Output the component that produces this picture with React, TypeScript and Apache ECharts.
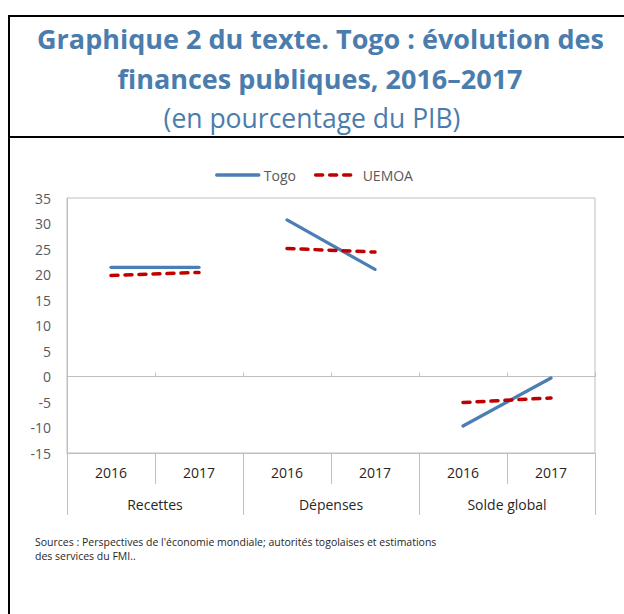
import React, { useEffect, useRef } from "react";
import * as echarts from "echarts";

const years = ["2016", "2017", "2016", "2017", "2016", "2017"];
const groups = ["Recettes", "Dépenses", "Solde global"];
const togo = [21.4, 21.4, 30.7, 21.0, -9.7, -0.3];
const uemoa = [19.8, 20.4, 25.1, 24.4, -5.1, -4.2];
const yTicks = { min: -15, max: 35, interval: 5 };

const titleLine1 = "Graphique 2 du texte. Togo : évolution des";
const titleLine2 = "finances publiques, 2016–2017";
const subtitle = "(en pourcentage du PIB)";
const source1 = "Sources : Perspectives de l'économie mondiale; autorités togolaises et estimations";
const source2 = "des services du FMI..";

const BLUE = "#4A7EB4";
const RED = "#C00000";
const TITLE = "#4A7DAD";
const AXIS = "#BFBFBF";
const FONT = "'Open Sans', 'Noto Sans', sans-serif";

function groupSeries(name: string, values: number[], color: string, dashed: boolean) {
  const out: any[] = [];
  for (let g = 0; g < groups.length; g++) {
    const data = values.map((v, i) => (Math.floor(i / 2) === g ? v : "-"));
    out.push({
      name,
      type: "line",
      xAxisIndex: 0,
      yAxisIndex: 0,
      data,
      symbol: "none",
      connectNulls: false,
      lineStyle: {
        color,
        width: dashed ? 3.5 : 3.25,
        type: dashed ? [7, 7] : "solid",
        cap: "round",
      },
      itemStyle: { color },
      z: dashed ? 3 : 2,
    });
  }
  return out;
}

export default function App() {
  const ref = useRef<HTMLDivElement>(null);
  useEffect(() => {
    if (!ref.current) return;
    const chart = echarts.init(ref.current, undefined, { renderer: "svg" });
    chart.setOption({
      animation: false,
      backgroundColor: "#ffffff",
      textStyle: { fontFamily: FONT },
      legend: {
        data: ["Togo", "UEMOA"],
        left: 210,
        top: 163,
        itemWidth: 42,
        itemHeight: 14,
        itemGap: 18,
        itemStyle: { color: "transparent", borderColor: "transparent", borderWidth: 0, opacity: 0 },
        lineStyle: { width: 3.5 },
        textStyle: { color: "#595959", fontSize: 14, fontFamily: FONT },
      },
      grid: {
        left: 67,
        right: 29,
        top: 198,
        bottom: 161,
        show: true,
        borderColor: AXIS,
        borderWidth: 1,
        backgroundColor: "transparent",
      },
      xAxis: [
        {
          type: "category",
          data: years,
          position: "bottom",
          axisLine: { onZero: true, lineStyle: { color: AXIS, width: 1 } },
          axisTick: { show: true, inside: true, length: 4, lineStyle: { color: AXIS } },
          axisLabel: { show: false },
          splitLine: { show: false },
        },
        {
          type: "category",
          data: years,
          position: "bottom",
          axisLine: { onZero: false, lineStyle: { color: AXIS, width: 1 } },
          axisTick: { show: true, length: 31, lineStyle: { color: AXIS } },
          axisLabel: { show: true, margin: 12, color: "#262626", fontSize: 14, fontFamily: FONT },
          splitLine: { show: false },
        },
        {
          type: "category",
          data: groups,
          position: "bottom",
          axisLine: { onZero: false, show: false },
          axisTick: { show: true, length: 62, lineStyle: { color: AXIS } },
          axisLabel: { show: true, margin: 44, color: "#262626", fontSize: 14, fontFamily: FONT },
          splitLine: { show: false },
        },
      ],
      yAxis: {
        type: "value",
        min: yTicks.min,
        max: yTicks.max,
        interval: yTicks.interval,
        axisLine: { show: true, lineStyle: { color: AXIS, width: 1 } },
        axisTick: { show: false },
        splitLine: { show: false },
        axisLabel: { margin: 16, color: "#595959", fontSize: 14, fontFamily: FONT },
      },
      series: [
        ...groupSeries("Togo", togo, BLUE, false),
        ...groupSeries("UEMOA", uemoa, RED, true),
      ],
      graphic: [
        { type: "line", shape: { x1: 8, y1: 16, x2: 624, y2: 16 }, style: { stroke: "#000", lineWidth: 2 } },
        { type: "line", shape: { x1: 9, y1: 15, x2: 9, y2: 614 }, style: { stroke: "#000", lineWidth: 2 } },
        { type: "line", shape: { x1: 8, y1: 137, x2: 624, y2: 137 }, style: { stroke: "#000", lineWidth: 2 } },
        {
          type: "text",
          x: 320.5,
          y: 38,
          style: {
            text: titleLine1,
            fill: TITLE,
            font: `bold 27px ${FONT}`,
            align: "center",
            verticalAlign: "middle",
          },
        },
        {
          type: "text",
          x: 320,
          y: 78,
          style: {
            text: titleLine2,
            fill: TITLE,
            font: `bold 27px ${FONT}`,
            align: "center",
            verticalAlign: "middle",
          },
        },
        {
          type: "text",
          x: 312,
          y: 118,
          style: {
            text: subtitle,
            fill: TITLE,
            font: `26.5px ${FONT}`,
            align: "center",
            verticalAlign: "middle",
          },
        },
        {
          type: "text",
          x: 35,
          y: 542,
          style: { text: source1, fill: "#262626", font: `10.5px ${FONT}`, align: "left", verticalAlign: "middle" },
        },
        {
          type: "text",
          x: 35,
          y: 556,
          style: { text: source2, fill: "#262626", font: `10.5px ${FONT}`, align: "left", verticalAlign: "middle" },
        },
      ],
    });
    return () => chart.dispose();
  }, []);
  return (
    <div
      ref={ref}
      style={{ position: "absolute", left: 0, top: 0, width: 624, height: 614 }}
    />
  );
}
